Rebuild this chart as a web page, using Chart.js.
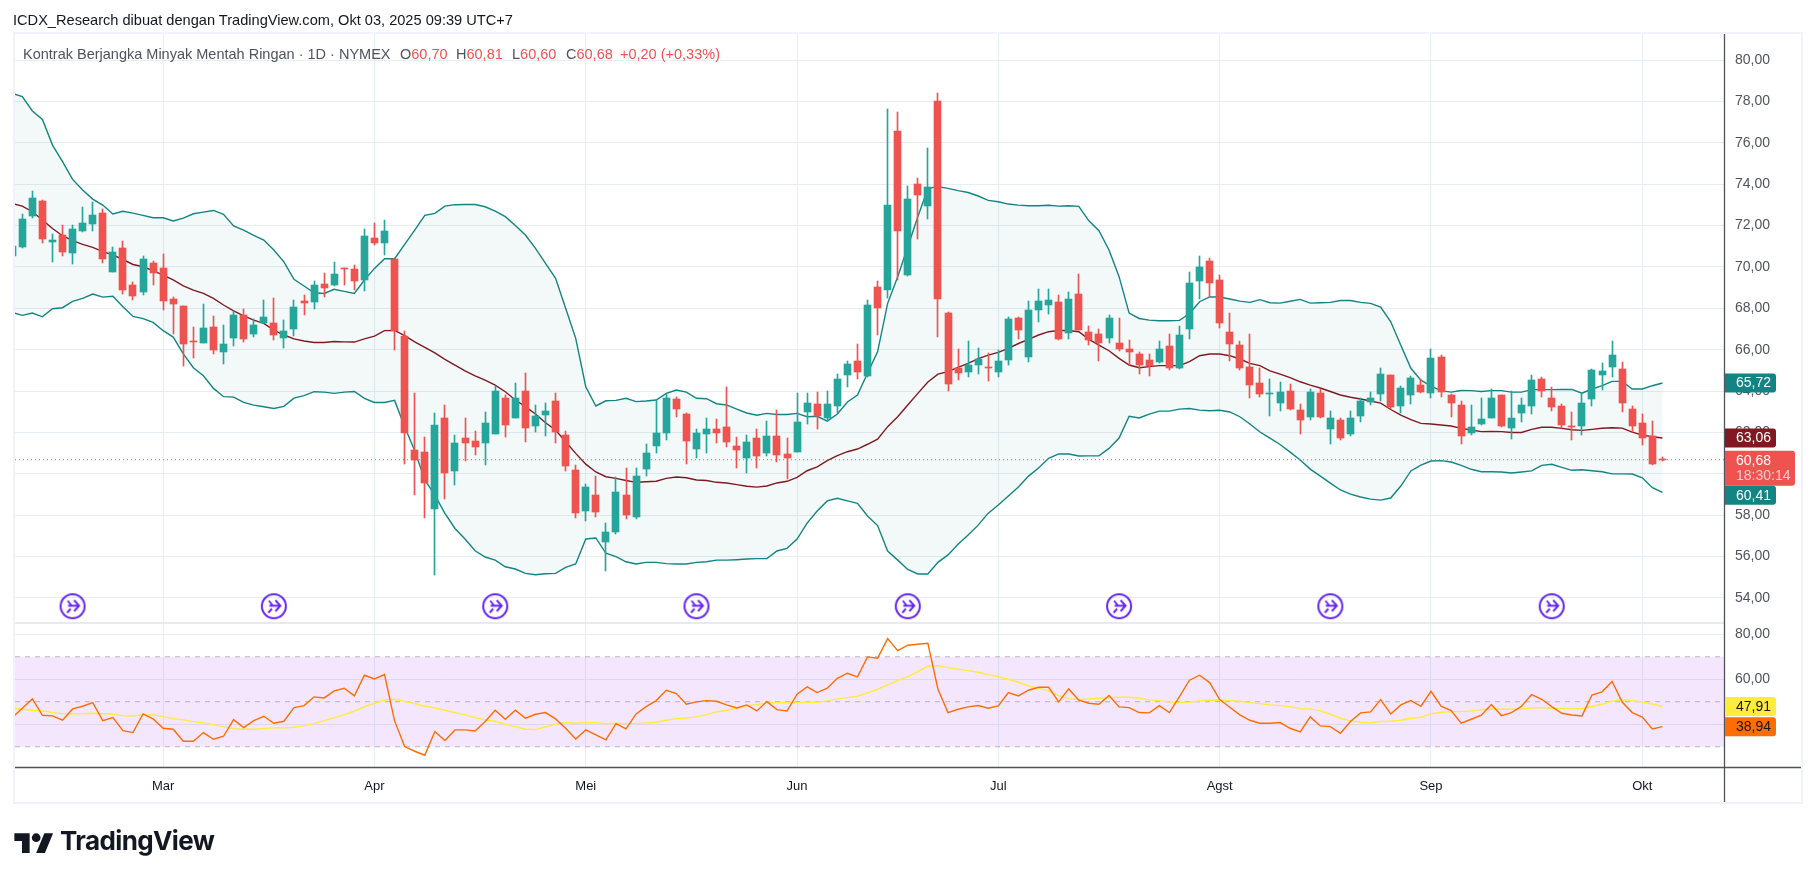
<!DOCTYPE html>
<html><head><meta charset="utf-8">
<style>
html,body{margin:0;padding:0;background:#fff;width:1814px;height:878px;overflow:hidden}
#c{position:absolute;left:0;top:0}
.t{position:absolute;white-space:pre;font-family:"Liberation Sans",sans-serif}
#title{left:13px;top:12px;font-size:14.6px;color:#131722}
.leg{top:46px;font-size:14.5px;color:#50535e}
.leg b{font-weight:400;color:#ef5350}
#brand{left:60px;top:825px;font-family:Inter,sans-serif;font-weight:700;font-size:26px;color:#131722;letter-spacing:-.6px}
#logo{position:absolute;left:14px;top:829px}
</style>
</head><body>
<canvas id="c" width="1814" height="878"></canvas>
<div class="t" id="title">ICDX_Research dibuat dengan TradingView.com, Okt 03, 2025 09:39 UTC+7</div>
<div class="t leg" style="left:23px">Kontrak Berjangka Minyak Mentah Ringan · 1D · NYMEX</div>
<div class="t leg" style="left:400px">O<b>60,70</b></div>
<div class="t leg" style="left:456px">H<b>60,81</b></div>
<div class="t leg" style="left:512px">L<b>60,60</b></div>
<div class="t leg" style="left:566px">C<b>60,68</b></div>
<div class="t leg" style="left:620px"><b>+0,20 (+0,33%)</b></div>
<svg id="logo" width="40" height="24" viewBox="0 0 36 22"><path fill="#131722" d="M14 22H7V11H0V4h14v18zM28 22h-8l7.5-18h8L28 22z"/><circle fill="#131722" cx="20" cy="8" r="4"/></svg>
<div class="t" id="brand">TradingView</div>
<script src="https://cdn.jsdelivr.net/npm/chart.js@4/dist/chart.umd.js"></script>
<script>
const opens=[70.53,70.98,72.48,73.19,71.22,71.54,70.69,71.73,72.07,72.61,
69.77,70.91,69.13,68.79,70.19,69.95,68.45,68.11,66.42,66.32,
67.10,65.88,66.56,67.68,66.76,67.29,67.29,66.56,67.00,68.35,
68.30,69.17,69.12,69.96,69.90,69.37,71.40,71.15,70.38,66.68,
61.15,61.05,58.30,62.70,60.14,61.73,61.58,61.49,61.92,63.66,
62.69,64.00,62.31,62.84,63.52,61.88,60.18,58.20,58.98,56.70,
57.19,58.98,57.90,60.23,61.34,61.97,63.62,62.89,61.20,61.92,
62.17,62.26,61.34,60.77,61.73,61.00,61.83,60.96,61.05,62.99,
63.37,62.69,63.28,64.78,65.45,64.73,69.03,68.88,76.57,69.61,
74.00,72.94,78.02,67.77,65.11,64.92,65.26,65.17,64.92,65.50,
67.53,65.65,67.92,68.16,68.30,66.80,68.69,66.85,66.76,66.56,
66.32,66.03,65.79,65.50,65.40,66.18,65.11,67.00,69.32,70.28,
69.37,66.85,66.22,65.16,64.39,63.87,63.42,64.00,63.08,62.74,
63.90,62.16,62.60,61.92,62.79,63.47,63.86,64.77,63.28,63.81,
64.29,63.90,65.65,63.81,63.32,61.97,62.41,62.70,63.81,62.21,
62.94,63.28,64.58,63.66,63.28,62.31,62.31,63.62,64.77,65.16,
65.06,63.13,62.45,61.83,60.70];
const highs=[71.4,72.56,73.67,73.23,71.59,72.02,72.02,72.9,73.14,72.78,
70.96,71.25,69.27,70.53,70.29,70.62,68.55,68.11,67.09,68.2,
67.63,67.19,67.87,67.97,67.48,68.4,68.5,67.43,68.4,68.64,
69.32,69.71,70.24,69.96,70.09,71.83,72.12,72.27,70.38,66.9,
63.9,61.78,62.94,63.33,61.87,62.7,62.07,62.98,64.24,63.81,
64.39,64.87,63.33,63.42,63.91,62.07,60.43,59.51,59.9,57.6,
59.84,60.28,60.28,61.44,63.58,63.86,63.71,62.94,62.17,62.7,
62.65,64.2,61.78,61.88,62.17,62.55,63.08,61.73,63.9,63.9,
63.95,64.0,64.82,65.45,66.27,68.4,69.32,77.63,77.49,73.91,
74.3,75.75,78.4,67.82,66.03,66.42,66.08,65.82,65.98,67.58,
67.58,68.35,68.93,68.93,68.64,68.79,69.66,67.14,67.0,67.67,
67.53,66.47,65.88,65.79,66.42,66.76,67.14,69.75,70.53,70.43,
69.61,67.77,66.42,66.76,65.11,64.58,64.43,64.34,63.37,64.1,
64.1,63.03,62.7,63.03,63.66,63.95,65.11,64.77,64.24,64.72,
64.58,66.03,65.74,63.86,63.52,63.32,63.66,64.1,63.81,64.0,
63.66,64.77,64.68,64.2,63.37,62.99,63.9,65.06,65.35,66.42,
65.4,63.28,62.89,62.55,60.81];
const lows=[70.3,70.9,72.35,71.17,70.25,70.54,70.16,71.7,71.73,70.2,
69.77,68.69,68.4,68.64,69.12,67.92,66.76,65.21,65.6,66.32,
65.79,65.3,66.18,66.37,66.61,67.29,66.47,66.08,66.66,67.67,
67.97,68.55,69.07,69.12,68.88,68.84,71.07,70.57,65.98,60.47,
58.97,57.86,55.11,58.78,59.46,60.62,60.91,60.43,61.92,61.78,
62.69,61.54,62.0,61.83,61.49,60.14,57.86,57.7,57.9,55.3,
57.07,57.8,57.8,59.89,61.0,61.63,62.75,60.47,60.76,61.0,
61.49,61.3,60.28,60.04,60.28,60.86,60.57,59.75,61.05,62.41,
62.17,62.55,62.94,64.2,64.58,64.68,66.71,68.5,69.37,69.56,
71.35,72.32,66.61,64.0,64.53,64.68,64.82,64.48,64.68,65.26,
66.52,65.4,67.34,67.72,66.47,66.52,66.95,66.22,65.45,66.32,
65.93,65.26,64.82,64.73,65.35,65.02,65.06,66.52,68.45,68.55,
67.05,65.45,65.02,63.66,63.71,62.79,63.03,63.08,61.92,62.6,
62.7,61.44,61.63,61.83,62.5,63.32,63.52,63.13,62.94,63.37,
63.9,63.66,63.71,62.74,61.44,61.87,62.36,62.7,62.26,61.68,
62.5,62.89,63.71,63.03,62.21,61.63,61.88,63.28,64.05,64.68,
62.99,62.02,61.39,60.43,60.60];
const closes=[71.0,72.32,73.31,71.36,71.3,70.74,71.83,72.12,72.51,70.38,
70.72,68.9,68.59,70.38,69.7,68.37,68.2,66.27,66.37,67.05,
65.98,66.27,67.68,66.52,67.19,67.58,66.71,66.9,68.06,68.25,
69.12,68.98,69.66,69.91,69.32,71.49,71.15,71.73,66.9,61.97,
60.67,59.55,62.36,60.04,61.49,61.49,61.29,62.46,64.0,62.36,
63.66,62.2,62.79,63.03,62.02,60.38,58.13,59.36,58.14,57.19,
59.12,58.0,59.89,61.0,61.97,63.66,63.13,61.59,61.97,62.17,
61.97,61.54,61.15,61.54,60.86,61.83,60.91,60.77,62.5,63.42,
62.79,63.37,64.58,65.31,64.92,68.16,68.01,72.99,71.74,73.28,
73.48,73.86,68.45,64.34,64.87,65.26,65.55,65.13,65.45,67.48,
66.95,67.92,68.35,68.4,66.52,68.45,66.95,66.47,66.32,67.53,
66.03,65.88,65.26,65.21,66.03,65.11,66.71,69.22,69.99,69.22,
67.29,66.27,65.11,64.29,63.86,63.9,63.95,63.13,62.6,63.95,
62.74,62.7,61.73,62.7,63.52,63.66,64.82,63.23,64.15,64.63,
63.95,65.6,63.95,63.42,61.83,62.26,62.65,63.66,62.31,62.7,
63.32,64.53,64.0,63.23,62.36,62.28,63.42,65.0,64.97,65.74,
63.42,62.31,61.73,60.48,60.68];
const upperBand=[78.39,78.23,77.54,77.13,75.89,75.09,74.23,73.72,73.28,72.99,
72.56,72.69,72.6,72.49,72.38,72.38,72.22,72.36,72.57,72.65,
72.73,72.54,71.98,71.78,71.53,71.3,70.82,70.25,69.4,69.08,
68.75,68.72,68.92,68.82,68.72,69.37,69.93,70.4,70.4,71.09,
71.78,72.49,72.59,72.94,73.01,73.02,73.02,72.91,72.7,72.43,
72.0,71.54,70.9,70.17,69.45,68.0,66.55,64.21,63.28,63.53,
63.55,63.65,63.49,63.52,63.57,63.89,64.05,63.95,63.65,63.63,
63.39,63.33,63.13,62.94,62.83,62.92,62.87,62.87,62.92,62.76,
62.78,62.55,62.89,63.47,63.81,64.86,65.9,68.24,69.53,70.98,
72.43,73.8,73.88,73.8,73.69,73.6,73.43,73.22,73.15,73.04,
72.99,72.96,72.96,72.98,72.94,72.96,72.93,72.23,71.75,70.82,
69.53,67.77,67.51,67.43,67.4,67.4,67.42,67.75,68.32,68.55,
68.55,68.45,68.35,68.29,68.42,68.27,68.25,68.34,68.43,68.25,
68.27,68.29,68.38,68.38,68.29,68.24,68.06,67.35,66.22,65.1,
64.53,64.24,64.02,63.95,64.03,64.02,63.98,64.02,64.02,63.95,
63.95,64.07,64.07,64.07,64.08,64.08,63.9,64.1,64.26,64.47,
64.47,64.1,64.1,64.26,64.39];
const middleBand=[73.07,72.94,72.67,72.27,71.86,71.51,71.27,71.09,70.95,70.74,
70.58,70.36,70.12,70.01,69.82,69.61,69.37,69.09,68.88,68.72,
68.48,68.16,67.88,67.64,67.43,67.27,66.95,66.71,66.52,66.42,
66.35,66.35,66.4,66.38,66.37,66.52,66.66,66.92,66.93,66.68,
66.38,66.11,65.85,65.53,65.26,64.98,64.73,64.53,64.29,63.97,
63.57,63.25,62.89,62.47,62.12,61.55,60.99,60.47,60.09,59.86,
59.78,59.68,59.59,59.62,59.64,59.78,59.85,59.81,59.7,59.68,
59.59,59.56,59.48,59.4,59.36,59.41,59.56,59.64,59.83,60.15,
60.34,60.64,60.88,61.07,61.2,61.43,61.68,62.28,62.76,63.33,
63.89,64.44,64.82,64.94,65.15,65.34,65.57,65.74,65.87,66.06,
66.3,66.5,66.71,66.87,66.93,66.93,66.87,66.5,66.22,65.95,
65.58,65.26,65.13,65.18,65.23,65.23,65.23,65.42,65.71,65.79,
65.79,65.71,65.55,65.34,65.23,64.98,64.82,64.65,64.45,64.29,
64.15,63.98,63.81,63.7,63.62,63.52,63.42,63.11,62.84,62.62,
62.44,62.41,62.36,62.31,62.2,62.12,62.04,62.05,62.04,62.0,
62.0,62.15,62.25,62.25,62.2,62.13,62.1,62.15,62.2,62.23,
62.21,62.02,61.87,61.79,61.73];
const lowerBand=[67.8,67.66,67.77,67.59,67.98,68.03,68.34,68.48,68.69,68.54,
68.58,68.08,67.61,67.5,67.32,66.92,66.61,65.8,65.13,64.74,
64.13,63.73,63.71,63.45,63.32,63.24,63.16,63.26,63.66,63.78,
63.97,63.95,63.89,63.95,63.98,63.65,63.45,63.45,63.55,62.28,
61.12,59.7,58.97,58.09,57.36,56.85,56.28,55.98,55.83,55.51,
55.4,55.19,55.12,55.17,55.19,55.48,55.64,56.85,56.9,56.16,
56.0,55.75,55.64,55.72,55.72,55.66,55.64,55.64,55.72,55.75,
55.83,55.83,55.85,55.88,55.9,55.91,56.27,56.4,56.85,57.62,
58.2,58.69,58.82,58.69,58.57,57.96,57.5,56.27,55.83,55.38,
55.16,55.16,55.72,56.08,56.6,57.04,57.52,58.1,58.49,58.93,
59.36,59.89,60.28,60.75,60.96,60.96,60.86,60.87,60.87,61.23,
61.73,62.78,62.7,62.89,63.03,63.03,63.13,63.16,63.08,63.05,
63.07,62.99,62.76,62.41,62.02,61.73,61.42,61.05,60.67,60.23,
59.89,59.55,59.22,59.02,58.88,58.78,58.73,58.83,59.41,60.14,
60.42,60.62,60.64,60.57,60.41,60.22,60.1,60.1,60.09,60.04,
60.09,60.14,60.41,60.46,60.31,60.17,60.2,60.15,60.1,60.0,
60.0,59.99,59.81,59.33,59.1];
const rsiValues=[42.96,47.11,51.26,44.0,43.7,41.78,46.81,48.0,49.63,41.63,
42.96,37.19,36.3,44.59,42.37,38.22,37.78,32.44,32.44,36.3,
33.33,34.67,42.07,38.52,41.63,43.56,40.44,41.33,47.41,48.3,
52.15,51.7,54.81,56.0,52.59,61.78,60.15,62.07,41.48,30.07,
28.0,26.22,36.74,32.74,37.48,37.48,37.04,41.19,46.22,42.22,
46.22,42.67,44.44,45.19,42.37,38.22,33.48,37.48,35.26,33.04,
40.3,37.93,44.59,47.85,50.52,55.11,53.63,48.89,49.93,50.52,
50.22,48.59,47.26,48.59,45.93,50.07,46.52,45.93,53.33,56.59,
54.07,56.0,60.44,62.67,61.04,69.93,69.33,78.07,72.74,75.11,
75.56,76.0,55.56,45.19,46.67,47.7,48.3,47.11,48.15,54.07,
52.59,55.11,56.44,56.44,49.93,55.7,50.67,49.33,48.89,52.74,
47.7,47.41,45.19,45.04,48.3,45.19,52.3,59.56,61.78,58.52,
50.96,47.56,44.15,41.78,40.44,40.44,40.74,38.22,36.59,43.26,
39.26,38.96,36.0,41.19,45.04,45.48,50.96,44.59,48.59,50.52,
48.0,54.67,48.0,46.07,40.44,42.22,44.0,48.74,43.85,45.19,
48.0,53.19,51.11,47.85,44.89,44.1,43.7,53.0,54.4,59.0,
49.9,45.2,43.2,37.9,38.94];
const rsiAverage=[47.11,46.67,46.22,45.93,45.19,44.74,44.59,44.74,44.89,44.74,
44.44,43.85,43.7,44.15,44.15,43.41,42.52,41.93,41.19,40.59,
39.85,38.81,38.07,37.78,37.78,38.07,38.37,38.37,38.67,39.41,
40.3,41.63,42.96,44.3,45.78,47.85,49.33,50.81,51.11,50.22,
49.19,48.0,47.26,46.22,45.19,44.15,42.96,41.93,41.33,40.0,
38.96,37.78,37.63,38.81,40.0,40.74,40.44,40.74,40.74,40.3,
40.44,40.3,40.3,40.59,40.89,41.78,42.52,42.81,43.26,44.3,
45.48,46.22,47.11,48.3,48.74,49.48,49.63,49.63,49.63,49.78,
49.78,50.37,51.26,51.85,52.44,53.93,55.56,57.48,59.41,61.19,
63.41,65.78,66.07,65.19,64.44,63.85,63.11,62.07,61.19,60.0,
58.67,57.04,56.0,54.81,52.74,51.41,50.96,51.26,51.56,51.85,
52.0,52.0,51.56,50.81,50.52,49.93,49.63,49.78,50.37,50.67,
50.81,50.52,50.22,49.63,49.19,48.59,48.3,47.85,46.96,46.81,
45.93,44.44,42.67,41.48,40.89,40.74,41.19,41.33,41.78,42.67,
43.11,44.59,45.33,45.63,45.63,45.93,46.52,46.81,46.67,46.67,
46.81,47.26,47.41,47.11,46.96,47.0,46.9,47.9,48.9,50.3,
50.9,50.5,49.9,49.0,47.91];
const monthIndex=[15,36,57,78,98,120,141,162];
const monthLabels=['Mar','Apr','Mei','Jun','Jul','Agst','Sep','Okt'];
const priceTicks=[80,78,76,74,72,70,68,66,64,62,60,58,56,54];
const rsiTicks=[80,60,40];
const rsiLevels=[70,50,30];
const rolloverIndex=[6,26,48,68,89,110,131,153];
const rolloverLevel=53.6;
const lastPrice=60.68;
const priceBadgeText=['65,72','63,06','60,68','60,41'];
const rsiBadgeText=['47,91','38,94'];
const countdownText='18:30:14';

const UP='#26a69a',DOWN='#ef5350',BAND='#138484',MID='#801922',TXT='#50535e',GRID='#e6edf3';
const FONT='"Liberation Sans",sans-serif';
const idx=opens.map((_,i)=>i);
const xMin=0.275,xMax=170.12;
const candleColors=idx.map(i=>closes[i]>=opens[i]?UP:DOWN);
const pts=a=>a.map((y,x)=>({x,y}));
const level=v=>[{x:xMin,y:v},{x:xMax,y:v}];

function rolloverIcon(){
  const s=28,c=document.createElement('canvas');c.width=s;c.height=s;
  const g=c.getContext('2d');g.strokeStyle='#6626f0';g.lineWidth=2;
  g.beginPath();g.arc(s/2,s/2,12,0,Math.PI*2);g.stroke();
  g.lineWidth=1.9;
  g.beginPath();g.moveTo(9.5,13.5);g.lineTo(20.5,13.5);g.moveTo(15.5,8);g.lineTo(20.5,13.5);g.lineTo(15.5,19);
  g.moveTo(9,8.5);g.lineTo(13,13.5);g.moveTo(12,16.5);g.lineTo(8.5,20.5);g.stroke();
  return c;
}

const frame={id:'frame',
  beforeDraw(ch){const g=ch.ctx;g.save();g.fillStyle='#fff';g.fillRect(0,0,ch.width,ch.height);g.restore();},
  afterDatasetsUpdate(ch){
    ch.data.datasets.forEach((d,k)=>{
      if(d.type!=='bar')return;
      ch.getDatasetMeta(k).data.forEach(el=>{
        el.x=Math.floor(el.x)+0.5;el.y=Math.round(el.y);el.base=Math.round(el.base);
      });
    });
  },
  afterDraw(ch){
    const g=ch.ctx,a=ch.chartArea,x=ch.scales.x,y=ch.scales.y,r=ch.scales.rsi;
    const right=x.right+77;
    g.save();
    g.strokeStyle='#f0f3fa';g.lineWidth=2;g.strokeRect(a.left-1,a.top-1,right-a.left+2,x.bottom-a.top+2);
    g.strokeStyle='#e0e3eb';g.lineWidth=1.5;
    g.beginPath();g.moveTo(a.left,y.bottom);g.lineTo(a.right,y.bottom);g.stroke();
    g.strokeStyle='#50535e';g.lineWidth=1.3;
    g.beginPath();g.moveTo(a.right+.5,a.top);g.lineTo(a.right+.5,x.bottom);
    g.moveTo(a.left,a.bottom+.5);g.lineTo(right,a.bottom+.5);g.stroke();
    g.font='14px '+FONT;g.textBaseline='middle';g.textAlign='left';
    const badge=(top,h,w,bg,fg,text,second)=>{
      g.fillStyle=bg;g.beginPath();g.roundRect(a.right+1,top,w,h,[0,3,3,0]);g.fill();
      g.fillStyle=fg;g.fillText(text,a.right+12,top+10);
      if(second){g.fillStyle='rgba(255,255,255,.7)';g.fillText(second,a.right+12,top+25);}
    };
    const up=y.getPixelForValue(upperBand.at(-1)),mi=y.getPixelForValue(middleBand.at(-1)),
      la=y.getPixelForValue(lastPrice),lo=y.getPixelForValue(lowerBand.at(-1));
    badge(up-9.5,19,51,BAND,'#fff',priceBadgeText[0]);
    badge(mi-9.5,19,51,MID,'#fff',priceBadgeText[1]);
    badge(la-9,35,70,DOWN,'#fff',priceBadgeText[2],countdownText);
    badge(Math.max(lo-9.5,la+26),19,51,BAND,'#fff',priceBadgeText[3]);
    badge(r.getPixelForValue(rsiAverage.at(-1))-9.5,19,51,'#ffeb3b','#131722',rsiBadgeText[0]);
    badge(r.getPixelForValue(rsiValues.at(-1))-9.5,19,51,'#ff6d00','#131722',rsiBadgeText[1]);
    g.restore();
  }
};
const comma=v=>Number(v).toFixed(2).replace('.',',');
const lineDs=(data,color,yAxisID,order,extra)=>Object.assign({type:'line',data,borderColor:color,borderWidth:1.4,pointRadius:0,tension:0,fill:false,yAxisID,xAxisID:'x',order},extra||{});

new Chart(document.getElementById('c'),{
  data:{datasets:[
    lineDs(pts(upperBand),BAND,'y',20,{label:'BB atas',fill:{target:1},backgroundColor:'rgba(19,132,132,0.05)'}),
    lineDs(pts(lowerBand),BAND,'y',19,{label:'BB bawah'}),
    lineDs(pts(middleBand),MID,'y',18,{label:'BB tengah'}),
    {type:'bar',label:'Sumbu',data:idx.map(i=>({x:i,y:[lows[i],highs[i]]})),backgroundColor:candleColors,barThickness:1,grouped:false,yAxisID:'y',xAxisID:'x',order:6},
    {type:'bar',label:'Badan',data:idx.map(i=>({x:i,y:[opens[i],closes[i]]})),backgroundColor:candleColors,barThickness:7,minBarLength:1,grouped:false,yAxisID:'y',xAxisID:'x',order:5},
    lineDs(level(lastPrice),DOWN,'y',4,{label:'Harga terakhir',borderWidth:1,borderDash:[1,3]}),
    {type:'scatter',label:'Rollover',data:rolloverIndex.map(x=>({x,y:rolloverLevel})),pointStyle:rolloverIcon(),pointRadius:14,yAxisID:'y',xAxisID:'x',order:3},
    lineDs(level(rsiLevels[0]),'rgba(120,123,134,.5)','rsi',30,{label:'70',borderWidth:1,borderDash:[5,5],fill:{target:'+2'},backgroundColor:'rgba(155,39,238,0.11)'}),
    lineDs(level(rsiLevels[1]),'rgba(120,123,134,.5)','rsi',29,{label:'50',borderWidth:1,borderDash:[5,5]}),
    lineDs(level(rsiLevels[2]),'rgba(120,123,134,.5)','rsi',28,{label:'30',borderWidth:1,borderDash:[5,5]}),
    lineDs(pts(rsiAverage),'#ffeb3b','rsi',2,{label:'RSI MA'}),
    lineDs(pts(rsiValues),'#ff6d00','rsi',1,{label:'RSI'})
  ]},
  options:{
    responsive:false,animation:false,events:[],
    layout:{padding:{left:13,top:34,right:13,bottom:76}},
    plugins:{legend:{display:false},title:{display:false},tooltip:{enabled:false}},
    scales:{
      x:{type:'linear',min:xMin,max:xMax,position:'bottom',offset:false,
        afterBuildTicks(s){s.ticks=monthIndex.map(value=>({value}));},
        afterFit(s){s.height=35;},
        ticks:{autoSkip:false,maxRotation:0,padding:12,color:'#131722',font:{family:FONT,size:13},
          callback:(v)=>monthLabels[monthIndex.indexOf(v)]},
        grid:{color:GRID,drawTicks:false,lineWidth:1,offset:false},border:{display:false}},
      y:{type:'linear',position:'right',stack:'panes',stackWeight:589,min:52.79,max:81.26,
        afterBuildTicks(s){s.ticks=priceTicks.map(value=>({value}));},
        afterFit(s){s.width=77;},
        ticks:{padding:11,color:TXT,font:{family:FONT,size:14},callback:comma},
        grid:{color:GRID,drawTicks:false},border:{display:false}},
      rsi:{type:'linear',position:'right',stack:'panes',stackWeight:144,min:21,max:85,
        afterBuildTicks(s){s.ticks=rsiTicks.map(value=>({value}));},
        afterFit(s){s.width=77;},
        ticks:{padding:11,color:TXT,font:{family:FONT,size:14},callback:comma},
        grid:{color:GRID,drawTicks:false},border:{display:false}}
    }
  },
  plugins:[frame]
});
</script>
</body></html>
